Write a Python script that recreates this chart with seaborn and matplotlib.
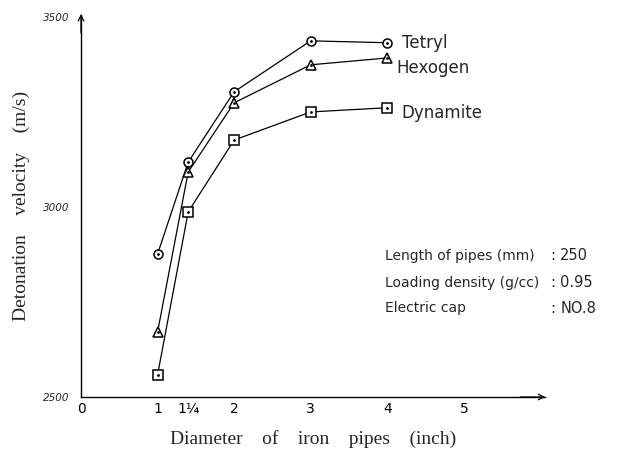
import matplotlib
matplotlib.use("Agg")
import matplotlib.pyplot as plt
import seaborn as sns
import pandas as pd

# ---- data ----
diameter = [1, 1.4, 2, 3, 4]          # drawn positions (1, 1 1/4, 2, 3, 4 inch)
tetryl = [2876, 3118, 3303, 3437, 3432]
hexogen = [2671, 3092, 3274, 3374, 3392]
dynamite = [2558, 2987, 3176, 3250, 3261]
series_names = ["Tetryl", "Hexogen", "Dynamite"]
series_labels = ["Tetryl", "Hexogen", "Dynamite"]
x_ticks = [0, 1, 1.4, 2, 3, 4, 5]
x_ticklabels = ["0", "1", "1¼", "2", "3", "4", "5"]
y_ticks = [2500, 3000, 3500]
y_ticklabels = ["2500", "3000", "3500"]
notes_left = ["Length of pipes (mm)", "Loading density (g/cc)", "Electric cap"]
notes_right = ["250", "0.95", "NO.8"]

rows = []
for name, vals in zip(series_names, [tetryl, hexogen, dynamite]):
    for d, v in zip(diameter, vals):
        rows.append({"diameter": d, "velocity": v, "explosive": name})
df = pd.DataFrame(rows)

sns.set_style("white")
plt.rcParams["font.family"] = ["DejaVu Sans"]

fig = plt.figure(figsize=(6.35, 4.61), dpi=100)
ax = fig.add_axes([81 / 635, 64 / 461, 464 / 635, 382 / 461])

markers = {"Tetryl": "o", "Hexogen": "^", "Dynamite": "s"}
sns.lineplot(data=df, x="diameter", y="velocity", style="explosive",
             markers=markers, dashes=False, color="black", lw=0.9,
             markersize=6.5, markerfacecolor="white", markeredgecolor="black",
             markeredgewidth=1.1, legend=False, ax=ax)
sns.scatterplot(data=df, x="diameter", y="velocity", color="black", s=4,
                linewidth=0, legend=False, ax=ax, zorder=5)

ax.set_xlim(0, 6.06)
ax.set_ylim(2500, 3505)

for s in ["top", "right"]:
    ax.spines[s].set_visible(False)
for s in ["left", "bottom"]:
    ax.spines[s].set_color("black")
    ax.spines[s].set_linewidth(1.0)

ax.set_xticks(x_ticks)
ax.set_xticklabels(x_ticklabels, fontsize=10)
ax.tick_params(axis="x", direction="inout", length=5, width=0.8, pad=1, colors="black")
ax.set_yticks(y_ticks)
ax.set_yticklabels(y_ticklabels, fontsize=7.5, style="italic")
ax.tick_params(axis="y", length=0, pad=8)

# arrow heads on axes
ax.annotate("", xy=(6.1, 2500), xytext=(5.7, 2500),
            xycoords="data", annotation_clip=False,
            arrowprops=dict(arrowstyle="->", color="black", lw=0.9))
ax.annotate("", xy=(0, 3515), xytext=(0, 3450),
            xycoords="data", annotation_clip=False,
            arrowprops=dict(arrowstyle="->", color="black", lw=0.9))

ax.set_xlabel("Diameter    of    iron    pipes    (inch)", fontsize=14,
              family="Liberation Serif", labelpad=10)
ax.yaxis.set_label_coords(-0.11, 0.44)
ax.set_ylabel("Detonation    velocity    (m/s)", fontsize=14,
              family="Liberation Serif")

# series labels
label_pos = [(4.19, 3432), (4.12, 3366), (4.19, 3247)]
for txt, (x, y) in zip(series_labels, label_pos):
    ax.text(x, y, txt, fontsize=12, va="center", ha="left", clip_on=False)

# notes
note_y = [2871, 2800, 2734]
for l, r, y in zip(notes_left, notes_right, note_y):
    ax.text(3.97, y, l, fontsize=10, va="center", ha="left", clip_on=False)
    ax.text(6.13, y, ":", fontsize=10.5, va="center", ha="left", clip_on=False)
    ax.text(6.26, y, r, fontsize=10.5, va="center", ha="left", clip_on=False)

fig.savefig("out.png", dpi=100)
